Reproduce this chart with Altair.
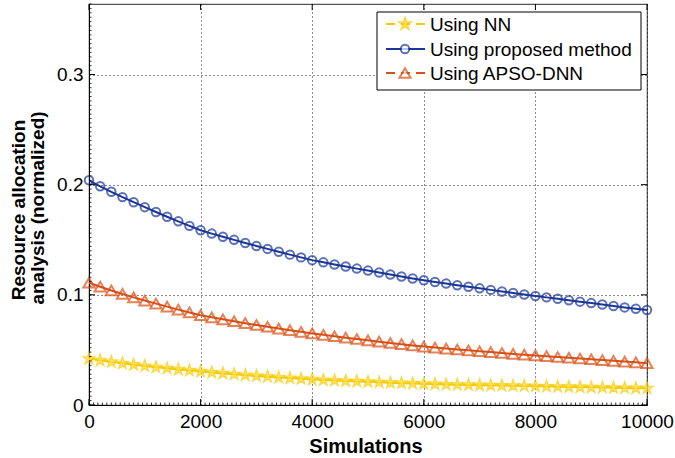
import altair as alt
import pandas as pd

# ---------------- data ----------------
sims = list(range(0, 10001, 200))

nn = [0.0420, 0.0405, 0.0391, 0.0378, 0.0366, 0.0354, 0.0343, 0.0333, 0.0323, 0.0314,
      0.0305, 0.0296, 0.0287, 0.0279, 0.0271, 0.0264, 0.0257, 0.0250, 0.0244, 0.0238,
      0.0232, 0.0227, 0.0222, 0.0218, 0.0214, 0.0210, 0.0206, 0.0202, 0.0198, 0.0195,
      0.0192, 0.0189, 0.0186, 0.0184, 0.0182, 0.0180, 0.0178, 0.0176, 0.0174, 0.0172,
      0.0170, 0.0168, 0.0166, 0.0164, 0.0162, 0.0160, 0.0158, 0.0156, 0.0154, 0.0153,
      0.0152]

proposed = [0.2040, 0.1985, 0.1935, 0.1887, 0.1841, 0.1796, 0.1752, 0.1709, 0.1667, 0.1626,
            0.1586, 0.1556, 0.1527, 0.1499, 0.1471, 0.1444, 0.1417, 0.1391, 0.1365, 0.1340,
            0.1315, 0.1295, 0.1276, 0.1257, 0.1238, 0.1220, 0.1202, 0.1184, 0.1166, 0.1149,
            0.1132, 0.1117, 0.1102, 0.1087, 0.1073, 0.1059, 0.1045, 0.1031, 0.1017, 0.1003,
            0.0990, 0.0977, 0.0964, 0.0951, 0.0938, 0.0925, 0.0912, 0.0899, 0.0886, 0.0874,
            0.0862]

apso = [0.1110, 0.1074, 0.1040, 0.1008, 0.0977, 0.0948, 0.0920, 0.0893, 0.0866, 0.0840,
        0.0815, 0.0796, 0.0778, 0.0760, 0.0743, 0.0726, 0.0710, 0.0694, 0.0679, 0.0664,
        0.0650, 0.0637, 0.0624, 0.0611, 0.0599, 0.0587, 0.0575, 0.0563, 0.0552, 0.0541,
        0.0530, 0.0521, 0.0512, 0.0504, 0.0496, 0.0488, 0.0480, 0.0472, 0.0464, 0.0457,
        0.0450, 0.0443, 0.0436, 0.0429, 0.0422, 0.0415, 0.0408, 0.0401, 0.0394, 0.0387,
        0.0380]

series_names = ["Using NN", "Using proposed method", "Using APSO-DNN"]
x_ticks = [0, 2000, 4000, 6000, 8000, 10000]
y_ticks = [0, 0.1, 0.2, 0.3]
x_minor = [i * 80 for i in range(0, 126)]
y_minor = [round(i * 0.004, 4) for i in range(0, 92)]

# ---------------- styling ----------------
W, H = 558, 401
FONT = "Liberation Sans"
C_NN = "#F7CB00"
C_NN_FILL = "#FFE04D"
C_PR = "#1A3699"
C_AP = "#DA4F14"
STAR = ("M0,-1 L0.235,-0.324 L0.951,-0.309 L0.380,0.124 L0.588,0.809 L0,0.4 "
        "L-0.588,0.809 L-0.380,0.124 L-0.951,-0.309 L-0.235,-0.324 Z")

df = pd.DataFrame({
    "sim": sims * 3,
    "val": nn + proposed + apso,
    "series": [series_names[0]] * len(sims) + [series_names[1]] * len(sims) + [series_names[2]] * len(sims),
})

xs = alt.Scale(domain=[0, 10000], nice=False, zero=False)
ys = alt.Scale(domain=[0, 0.364], nice=False)

base = alt.Chart(df)

lines = base.mark_line(clip=True).encode(
    x=alt.X("sim:Q", scale=xs, axis=alt.Axis(
        values=x_ticks, format="d", title=None, grid=True, gridDash=[1, 3], gridColor="#000000",
        gridOpacity=0.9, tickSize=0, labelPadding=7, labelFont=FONT, labelFontSize=19,
        labelColor="#000000", domainColor="#000000", labelFlush=False)),
    y=alt.Y("val:Q", scale=ys, axis=alt.Axis(
        values=y_ticks, format="~g", title=None, grid=True, gridDash=[1, 3],
        gridColor="#000000", gridOpacity=0.9, tickSize=0, labelPadding=6, labelFont=FONT,
        labelFontSize=19, labelColor="#000000", domainColor="#000000")),
    color=alt.Color("series:N", scale=alt.Scale(domain=series_names, range=[C_NN, C_PR, C_AP]), legend=None),
    strokeWidth=alt.StrokeWidth("series:N", scale=alt.Scale(domain=series_names, range=[2, 2, 2.8]), legend=None),
)

def pts(name, shape, color, size, fill=None, sw=1.5):
    kw = dict(shape=shape, size=size, stroke=color, strokeWidth=sw, filled=fill is not None)
    if fill is not None:
        kw["fill"] = fill
    return base.transform_filter(alt.datum.series == name).mark_point(**kw).encode(
        x=alt.X("sim:Q", scale=xs), y=alt.Y("val:Q", scale=ys))

p_nn = pts(series_names[0], STAR, C_NN, 140, fill=C_NN_FILL, sw=1.6)
p_pr = pts(series_names[1], "circle", C_PR, 72, sw=2)
p_ap = pts(series_names[2], "triangle-up", C_AP, 125, sw=2)

one = pd.DataFrame({"k": [0]})

# inward ticks
xt = pd.DataFrame({"t": x_ticks})
yt = pd.DataFrame({"t": y_ticks})
xm = pd.DataFrame({"t": x_minor})
ym = pd.DataFrame({"t": y_minor})
tk = dict(color="#000000", strokeWidth=1)
t_bot = alt.Chart(xt).mark_rule(**tk).encode(x=alt.X("t:Q", scale=xs), y=alt.value(H), y2=alt.value(H - 6))
t_top = alt.Chart(xt).mark_rule(**tk).encode(x=alt.X("t:Q", scale=xs), y=alt.value(0), y2=alt.value(6))
t_lef = alt.Chart(yt).mark_rule(**tk).encode(y=alt.Y("t:Q", scale=ys), x=alt.value(0), x2=alt.value(6))
t_rig = alt.Chart(yt).mark_rule(**tk).encode(y=alt.Y("t:Q", scale=ys), x=alt.value(W), x2=alt.value(W - 6))
m_bot = alt.Chart(xm).mark_rule(color="#000000", strokeWidth=0.8).encode(
    x=alt.X("t:Q", scale=xs), y=alt.value(H), y2=alt.value(H - 2.5))
m_lef = alt.Chart(ym).mark_rule(color="#000000", strokeWidth=0.8).encode(
    y=alt.Y("t:Q", scale=ys), x=alt.value(0), x2=alt.value(2.5))

# legend (drawn manually)
LX0, LX1 = 288, 552
LY0, LY1 = 8, 86
rows = [20, 45, 69]
seg0, seg1, mx, tx = 297, 336, 316, 341
leg = [alt.Chart(one).mark_rect(fill="white", stroke="#000000", strokeWidth=1).encode(
    x=alt.value(LX0), x2=alt.value(LX1), y=alt.value(LY0), y2=alt.value(LY1))]
specs = [
    (series_names[0], C_NN, STAR, 140, C_NN_FILL, [9, 6], 2.0),
    (series_names[1], C_PR, "circle", 72, None, None, 2.0),
    (series_names[2], C_AP, "triangle-up", 125, None, [9, 6], 2.2),
]
for (name, col, shp, sz, fl, dash, lw), ry in zip(specs, rows):
    rk = dict(color=col, strokeWidth=lw)
    if dash:
        rk["strokeDash"] = dash
    leg.append(alt.Chart(one).mark_rule(**rk).encode(x=alt.value(seg0), x2=alt.value(seg1), y=alt.value(ry)))
    pk = dict(shape=shp, size=sz, stroke=col, strokeWidth=2, filled=True)
    pk["fill"] = fl if fl is not None else "white"
    leg.append(alt.Chart(one).mark_point(**pk).encode(x=alt.value(mx), y=alt.value(ry)))
    leg.append(alt.Chart(one).mark_text(align="left", baseline="middle", font=FONT, fontSize=19,
                                        color="#000000").encode(
        x=alt.value(tx), y=alt.value(ry + 1), text=alt.value(name)))

# titles
tt = dict(font=FONT, fontWeight="bold", color="#000000")
x_title = alt.Chart(one).mark_text(align="center", baseline="alphabetic", fontSize=20, **tt).encode(
    x=alt.value(277), y=alt.value(449), text=alt.value("Simulations"))
y_title1 = alt.Chart(one).mark_text(align="center", baseline="alphabetic", angle=270, fontSize=19, **tt).encode(
    x=alt.value(-64), y=alt.value(206), text=alt.value("Resource allocation"))
y_title2 = alt.Chart(one).mark_text(align="center", baseline="alphabetic", angle=270, fontSize=19, **tt).encode(
    x=alt.value(-45), y=alt.value(204), text=alt.value("analysis (normalized)"))

chart = alt.layer(
    lines, p_ap, p_nn, p_pr,
    t_bot, t_top, t_lef, t_rig, m_bot, m_lef,
    *leg, x_title, y_title1, y_title2,
).properties(
    width=W, height=H,
    autosize=alt.AutoSizeParams(type="none"),
    padding={"left": 89, "top": 4, "right": 28, "bottom": 53},
    background="white",
).configure_view(stroke="#555555", strokeWidth=1.2)

chart.save("out.html", embed_options={"renderer": "svg", "actions": False})
